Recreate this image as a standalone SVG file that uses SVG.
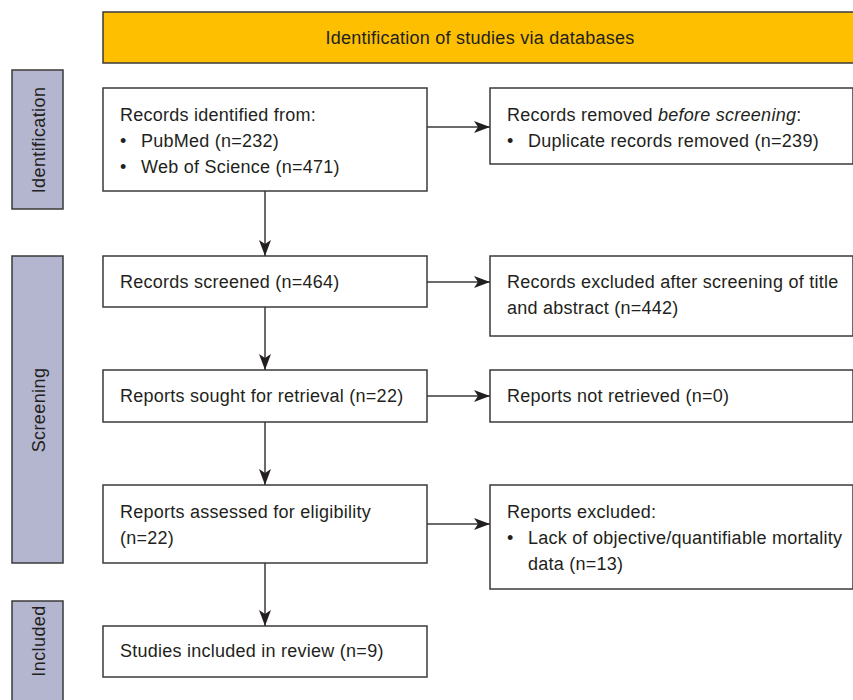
<svg xmlns="http://www.w3.org/2000/svg" width="853" height="700" viewBox="0 0 853 700">
<defs>
<style>
.box{fill:#ffffff;stroke:#3a3a3a;stroke-width:1.5}
.side{fill:#b4b5cf;stroke:#3a3a3a;stroke-width:1.5}
.t{font-family:"Liberation Sans",Arial,sans-serif;font-size:18px;fill:#231f20;letter-spacing:0.25px}
.st{font-family:"Liberation Sans",Arial,sans-serif;font-size:18px;fill:#231f20;letter-spacing:0.4px}
.c{stroke:#3a3a3a;stroke-width:1.5;fill:none}
</style>
<marker id="ah" viewBox="0 0 16 12" refX="16" refY="6" markerWidth="16" markerHeight="12" markerUnits="userSpaceOnUse" orient="auto">
<path d="M0,0 L16,6 L0,12 L4,6 Z" fill="#231f20"/>
</marker>
</defs>
<rect width="853" height="700" fill="#ffffff"/>
<g id="header">
<rect x="103" y="12" width="752" height="51" fill="#fdbf00" stroke="#3a3a3a" stroke-width="1.5"/>
<text class="t" x="480" y="44" text-anchor="middle">Identification of studies via databases</text>
</g>
<g id="side-identification">
<rect class="side" x="12" y="70" width="51" height="139"/>
<text class="st" transform="translate(44.5,140) rotate(-90)" text-anchor="middle">Identification</text>
</g>
<g id="side-screening">
<rect class="side" x="12" y="256" width="51" height="307"/>
<text class="st" transform="translate(44.5,410) rotate(-90)" text-anchor="middle">Screening</text>
</g>
<g id="side-included">
<rect class="side" x="12" y="601" width="51" height="110"/>
<text class="st" transform="translate(44.5,641) rotate(-90)" text-anchor="middle">Included</text>
</g>
<g id="records-identified">
<rect class="box" x="103" y="88" width="324" height="103"/>
<text class="t" x="120" y="121">Records identified from:</text>
<text class="t" x="120" y="147">•</text><text class="t" x="141" y="147">PubMed (n=232)</text>
<text class="t" x="120" y="173">•</text><text class="t" x="141" y="173">Web of Science (n=471)</text>
</g>
<g id="records-removed">
<rect class="box" x="490" y="88" width="363" height="76"/>
<text class="t" x="507" y="121">Records removed <tspan font-style="italic">before screening</tspan>:</text>
<text class="t" x="507" y="147">•</text><text class="t" x="528" y="147">Duplicate records removed (n=239)</text>
</g>
<g id="records-screened">
<rect class="box" x="103" y="256" width="324" height="51"/>
<text class="t" x="120" y="288">Records screened (n=464)</text>
</g>
<g id="records-excluded">
<rect class="box" x="490" y="256" width="363" height="80"/>
<text class="t" x="507" y="288">Records excluded after screening of title</text>
<text class="t" x="507" y="314">and abstract (n=442)</text>
</g>
<g id="reports-sought">
<rect class="box" x="103" y="370" width="324" height="52"/>
<text class="t" x="120" y="402">Reports sought for retrieval (n=22)</text>
</g>
<g id="reports-not-retrieved">
<rect class="box" x="490" y="370" width="363" height="52"/>
<text class="t" x="507" y="402">Reports not retrieved (n=0)</text>
</g>
<g id="reports-assessed">
<rect class="box" x="103" y="485" width="324" height="78"/>
<text class="t" x="120" y="518">Reports assessed for eligibility</text>
<text class="t" x="120" y="544">(n=22)</text>
</g>
<g id="reports-excluded">
<rect class="box" x="490" y="485" width="363" height="104"/>
<text class="t" x="507" y="518">Reports excluded:</text>
<text class="t" x="507" y="544">•</text><text class="t" x="528" y="544">Lack of objective/quantifiable mortality</text>
<text class="t" x="528" y="570">data (n=13)</text>
</g>
<g id="studies-included">
<rect class="box" x="103" y="626" width="324" height="51"/>
<text class="t" x="120" y="657">Studies included in review (n=9)</text>
</g>
<g id="connectors">
<line class="c" x1="427" y1="127" x2="490" y2="127" marker-end="url(#ah)"/>
<line class="c" x1="427" y1="282" x2="490" y2="282" marker-end="url(#ah)"/>
<line class="c" x1="427" y1="396" x2="490" y2="396" marker-end="url(#ah)"/>
<line class="c" x1="427" y1="524" x2="490" y2="524" marker-end="url(#ah)"/>
<line class="c" x1="265" y1="191" x2="265" y2="256" marker-end="url(#ah)"/>
<line class="c" x1="265" y1="307" x2="265" y2="370" marker-end="url(#ah)"/>
<line class="c" x1="265" y1="422" x2="265" y2="485" marker-end="url(#ah)"/>
<line class="c" x1="265" y1="563" x2="265" y2="626" marker-end="url(#ah)"/>
</g>
</svg>
